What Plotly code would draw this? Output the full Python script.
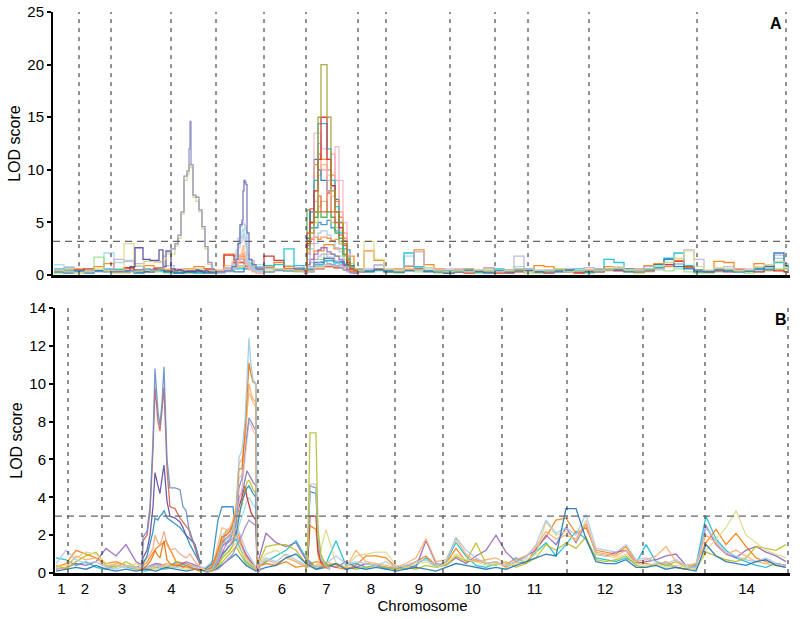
import plotly.graph_objects as go

# chromosome boundaries, in map units of the shared x axis
A_BOUNDS = [53, 79, 111, 171, 216, 264, 306, 358, 386, 450, 495, 528, 589, 697, 786]
B_BOUNDS = [55, 68, 102, 142, 201, 258, 306, 347, 395, 443, 502, 567, 643, 705, 788]
CHROMOSOMES = ['1', '2', '3', '4', '5', '6', '7', '8', '9', '10', '11', '12', '13', '14']
A_THRESHOLD = 3.2
B_THRESHOLD = 3.0

# ---------------- panel A : genome-wide marker grid ----------------
A_POS = [54, 64, 74, 84, 94, 104, 114, 124, 134, 144, 154, 164,
         174, 184, 194, 204, 214, 224, 234, 244, 254, 264, 274, 284, 294, 304,
         314, 324, 334, 344, 354, 364, 374, 384, 394, 404, 414, 424, 434, 444,
         454, 464, 474, 484, 494, 504, 514, 524, 534, 544, 554, 564, 574, 584,
         594, 604, 614, 624, 634, 644, 654, 664, 674, 684, 694,
         704, 714, 724, 734, 744, 754, 764, 774, 784, 788]

A_BG_1 = [1.0, 0.8, 0.4, 0.3, 0.5, 2.1, 1.2, 1.4, 0.8, 0.6, 0.5, 0.4,
          0.3, 0.2, 0.2, 0.3, 0.4, 0.6, 1.5, 1.2, 1.0, 0.8, 0.6, 0.9, 0.7, 0.5,
          0.9, 1.3, 1.1, 0.8, 0.3, 0.5, 0.9, 0.6, 0.4, 1.8, 0.7, 0.5, 0.4, 0.3,
          0.3, 0.5, 0.4, 0.3, 0.5, 0.4, 0.8, 0.5, 0.3, 0.4, 0.6, 0.5, 0.3, 0.2,
          0.3, 0.5, 0.6, 0.4, 0.3, 0.5, 0.8, 1.2, 1.0, 0.7, 0.4,
          0.3, 0.5, 0.6, 0.4, 0.3, 0.6, 0.9, 1.6, 0.8, 0.4]
A_BG_2 = [0.3, 0.5, 0.6, 0.4, 0.8, 1.1, 0.5, 0.6, 0.4, 0.9, 0.7, 0.5,
          0.4, 0.6, 0.8, 0.5, 0.3, 2.0, 1.8, 0.9, 0.6, 0.7, 1.2, 0.8, 0.5, 0.4,
          2.3, 2.9, 2.5, 1.8, 0.6, 2.3, 1.4, 0.5, 0.6, 0.8, 2.4, 1.0, 0.6, 0.4,
          0.5, 0.6, 0.4, 0.7, 0.3, 0.5, 0.6, 0.4, 0.9, 0.8, 0.6, 0.4, 0.3, 0.5,
          0.6, 0.8, 0.5, 0.4, 0.6, 0.9, 1.1, 0.8, 1.4, 0.7, 0.5,
          0.4, 1.3, 1.2, 0.6, 0.4, 1.1, 0.8, 0.5, 0.6, 0.3]
A_BG_3 = [0.2, 0.6, 0.3, 0.5, 1.7, 0.4, 0.6, 0.3, 0.5, 0.4, 0.3, 0.2,
          0.3, 0.2, 0.4, 0.3, 0.2, 0.4, 0.7, 1.1, 0.5, 0.3, 0.5, 0.4, 0.3, 0.6,
          1.5, 2.0, 1.8, 1.1, 0.4, 0.3, 0.4, 0.3, 0.2, 0.5, 0.3, 0.4, 0.2, 0.3,
          0.4, 0.3, 0.2, 0.5, 0.3, 0.3, 0.4, 0.2, 0.2, 0.3, 0.5, 0.3, 0.4, 0.2,
          0.3, 0.4, 0.6, 0.3, 0.2, 0.3, 0.5, 0.4, 0.6, 0.3, 0.2,
          0.2, 0.3, 0.5, 0.4, 0.2, 0.3, 0.4, 0.6, 0.3, 0.2]
A_BG_4 = [0.4, 0.3, 0.5, 0.6, 0.4, 0.5, 0.4, 0.7, 0.5, 0.3, 0.6, 0.4,
          0.5, 0.4, 0.3, 0.6, 0.4, 1.9, 1.2, 0.8, 0.5, 1.8, 1.4, 0.6, 0.4, 0.5,
          0.6, 0.8, 0.7, 0.5, 0.3, 0.4, 0.6, 0.3, 0.3, 0.5, 0.6, 0.4, 0.3, 0.2,
          0.3, 0.2, 0.4, 0.3, 0.2, 0.2, 0.3, 0.4, 0.3, 0.2, 0.4, 0.3, 0.2, 0.4,
          0.3, 0.5, 0.4, 0.6, 0.3, 0.4, 0.7, 1.0, 1.3, 0.8, 0.4,
          0.3, 0.4, 0.3, 0.5, 0.4, 0.3, 0.5, 0.4, 0.3, 0.2]
A_BG_5 = [0.6, 0.4, 0.3, 0.3, 0.4, 0.6, 0.5, 0.4, 0.3, 0.5, 0.4, 0.3,
          0.2, 0.3, 0.2, 0.4, 0.3, 0.5, 0.6, 0.9, 0.7, 0.9, 1.0, 2.5, 0.9, 0.6,
          1.0, 1.4, 1.2, 0.9, 0.5, 0.4, 0.5, 0.3, 0.3, 2.1, 0.8, 0.4, 0.3, 0.4,
          0.4, 0.5, 0.3, 0.4, 0.6, 0.3, 0.5, 0.6, 0.4, 0.3, 0.5, 0.4, 0.6, 0.3,
          0.5, 1.5, 1.2, 0.6, 0.4, 0.5, 0.7, 1.6, 2.1, 0.9, 0.5,
          0.4, 0.6, 0.5, 0.3, 0.4, 0.5, 0.6, 1.2, 0.7, 0.3]
A_BG_6 = [0.5, 0.7, 0.4, 0.4, 0.3, 0.5, 1.5, 1.3, 1.1, 1.3, 1.3, 0.9,
          0.6, 0.4, 0.5, 0.3, 0.4, 0.7, 0.9, 1.4, 0.8, 0.6, 0.4, 0.5, 0.7, 0.4,
          0.8, 1.0, 0.9, 0.7, 0.4, 0.6, 1.0, 0.5, 0.5, 0.9, 2.2, 0.7, 0.5, 0.6,
          0.6, 0.4, 0.5, 0.7, 0.4, 0.5, 1.8, 0.6, 0.4, 0.5, 0.3, 0.6, 0.4, 0.7,
          0.6, 0.5, 0.7, 0.4, 0.6, 0.8, 0.6, 0.9, 1.1, 2.4, 1.5,
          0.4, 0.6, 0.8, 0.5, 0.6, 0.7, 0.9, 1.9, 1.1, 0.5]
A_BG_7 = [0.3, 0.2, 0.4, 0.2, 0.4, 0.3, 0.3, 0.4, 0.2, 0.3, 0.5, 0.3,
          0.2, 0.3, 0.4, 0.2, 0.3, 0.4, 0.3, 0.6, 0.4, 0.3, 0.5, 0.4, 0.6, 0.3,
          1.2, 1.6, 1.3, 0.9, 0.4, 0.3, 0.5, 0.4, 0.3, 0.4, 0.5, 0.3, 0.4, 0.2,
          0.3, 0.4, 0.3, 0.2, 0.4, 0.3, 0.5, 0.4, 0.3, 0.4, 0.3, 0.5, 0.4, 0.3,
          0.4, 0.6, 0.5, 0.3, 0.4, 0.6, 1.0, 1.5, 0.8, 0.6, 0.3,
          0.3, 0.5, 0.4, 0.3, 0.4, 0.6, 0.8, 2.1, 0.9, 0.4]
A_BG_8 = [0.4, 0.3, 0.2, 0.3, 0.6, 0.4, 0.4, 3.0, 0.9, 1.3, 1.2, 0.6,
          0.4, 0.5, 0.6, 0.4, 0.3, 0.5, 0.8, 1.0, 0.6, 0.4, 0.6, 0.5, 0.4, 0.3,
          0.7, 0.9, 0.8, 0.6, 0.4, 3.2, 1.5, 0.6, 0.4, 0.6, 0.5, 0.7, 0.4, 0.3,
          0.4, 0.3, 0.5, 0.4, 0.3, 0.4, 0.6, 0.3, 0.5, 0.4, 0.6, 0.3, 0.4, 0.5,
          0.4, 0.6, 0.8, 0.5, 0.4, 0.6, 0.9, 1.2, 1.6, 2.3, 0.8,
          0.5, 0.7, 0.6, 0.4, 0.5, 0.8, 1.0, 1.3, 0.7, 0.4]

# panel A, chromosomes 3-4 (finer markers)
A_CHR4_POS = [112, 130, 135, 143, 150, 159, 163, 166, 171, 175, 178, 181, 184,
              187, 189, 190, 191, 193, 196, 199, 202, 205, 208, 212, 216]
A_CHR4_LAV = [0.3, 0.4, 0.5, 0.6, 0.5, 0.7, 1.8, 2.2, 2.5, 3.0, 3.8, 6.0, 9.4,
              9.9, 12.0, 14.6, 10.5, 7.6, 7.4, 6.2, 4.6, 2.7, 1.2, 0.5, 0.3]
A_CHR4_YEL = [0.2, 0.3, 0.4, 0.5, 0.4, 0.6, 1.5, 2.0, 2.0, 2.8, 3.5, 5.8, 9.0,
              9.6, 10.4, 10.5, 10.2, 7.4, 7.0, 6.0, 4.4, 2.5, 1.0, 0.4, 0.2]
A_CHR4_PUR = [0.3, 0.8, 2.6, 1.5, 1.4, 2.4, 0.8, 2.3, 0.6, 0.4, 0.5, 0.4, 0.3,
              0.4, 0.3, 0.3, 0.4, 0.3, 0.5, 0.4, 0.3, 0.4, 0.3, 0.3, 0.2]

# panel A, chromosome 5
A_CHR5_POS = [216, 225, 232, 236, 238, 240, 242, 243, 244, 245, 246, 247, 249, 252, 256, 264]
A_CHR5_1 = [0.3, 0.4, 0.8, 1.5, 3.0, 4.8, 5.2, 8.0, 9.0, 8.8, 8.6, 4.0, 1.5, 1.0, 0.6, 0.4]
A_CHR5_2 = [0.2, 0.3, 0.6, 2.0, 3.5, 4.6, 5.0, 5.0, 4.8, 4.5, 4.2, 2.0, 0.9, 0.6, 0.4, 0.3]
A_CHR5_3 = [0.3, 0.5, 1.0, 2.4, 3.0, 3.6, 4.2, 4.4, 3.9, 3.5, 3.0, 1.4, 0.8, 0.5, 0.4, 0.3]
A_CHR5_4 = [0.2, 0.4, 0.9, 1.8, 2.6, 3.1, 3.5, 3.8, 3.3, 3.0, 2.6, 1.2, 0.7, 0.5, 0.3, 0.2]
A_CHR5_5 = [0.5, 0.9, 1.3, 1.0, 1.6, 2.0, 2.4, 2.8, 2.2, 1.9, 1.5, 0.9, 0.6, 0.4, 0.3, 0.2]
A_CHR5_6 = [0.4, 0.6, 1.1, 0.8, 1.2, 1.6, 1.9, 2.1, 1.8, 1.5, 1.2, 0.7, 0.5, 0.3, 0.2, 0.3]

# panel A, chromosome 7
A_CHR7_POS = [304, 307, 310, 314, 318, 321, 327, 331, 335, 339, 343, 347, 350, 354, 358]
A_CHR7_01 = [0.5, 2.5, 4.0, 6.0, 15.0, 20.0, 15.0, 8.0, 6.0, 5.0, 3.0, 1.5, 0.8, 0.5, 0.5]
A_CHR7_02 = [0.4, 3.0, 5.0, 8.0, 11.0, 15.0, 11.0, 8.5, 6.0, 4.5, 3.0, 1.2, 0.6, 0.4, 0.4]
A_CHR7_03 = [0.5, 2.8, 4.5, 9.0, 14.4, 14.4, 12.0, 9.0, 6.5, 4.0, 2.5, 1.6, 0.8, 0.5, 0.5]
A_CHR7_04 = [0.3, 2.0, 3.5, 13.5, 13.5, 12.0, 9.5, 8.0, 12.2, 9.0, 5.0, 2.0, 0.7, 0.4, 0.4]
A_CHR7_05 = [0.4, 3.2, 5.0, 10.5, 11.5, 11.0, 10.0, 9.5, 7.0, 5.5, 3.5, 1.4, 0.5, 0.4, 0.4]
A_CHR7_06 = [0.4, 3.5, 6.0, 11.0, 10.0, 9.0, 8.0, 8.5, 7.2, 5.0, 3.2, 1.0, 0.6, 0.3, 0.3]
A_CHR7_07 = [0.3, 2.5, 4.5, 8.0, 9.5, 10.5, 9.0, 7.5, 6.0, 4.2, 3.0, 1.2, 0.5, 0.3, 0.3]
A_CHR7_08 = [0.3, 4.0, 6.3, 6.0, 7.5, 6.0, 7.8, 6.0, 5.0, 3.8, 2.8, 1.0, 0.4, 0.3, 0.3]
A_CHR7_09 = [0.4, 6.2, 5.0, 5.5, 6.0, 5.5, 6.0, 5.5, 4.0, 3.5, 2.0, 0.9, 0.5, 0.4, 0.4]
A_CHR7_10 = [0.4, 3.0, 3.5, 5.0, 6.5, 7.0, 6.0, 5.0, 4.5, 3.0, 1.8, 0.8, 0.4, 0.4, 0.4]
A_CHR7_11 = [0.3, 2.0, 3.5, 4.5, 5.0, 4.8, 5.2, 4.5, 4.2, 3.0, 1.9, 2.4, 0.6, 0.3, 0.3]
A_CHR7_12 = [0.5, 3.3, 3.4, 3.6, 3.4, 3.6, 3.5, 3.3, 3.4, 3.2, 3.3, 1.5, 0.5, 0.5, 0.5]
A_CHR7_13 = [0.3, 1.5, 2.5, 3.0, 4.0, 4.2, 3.8, 3.2, 2.6, 2.2, 1.5, 0.8, 0.4, 0.3, 0.3]
A_CHR7_14 = [0.2, 1.0, 1.5, 2.0, 2.4, 2.6, 2.2, 2.0, 1.8, 1.5, 1.0, 0.5, 0.3, 0.2, 0.2]
A_CHR7_15 = [0.2, 0.8, 1.2, 1.5, 1.8, 2.0, 1.7, 1.5, 1.3, 1.0, 0.8, 0.4, 0.2, 0.2, 0.2]
A_CHR7_16 = [0.2, 0.5, 0.8, 1.0, 1.2, 1.3, 1.1, 1.0, 0.9, 0.7, 0.5, 0.3, 0.2, 0.2, 0.2]
A_CHR7_17 = [0.3, 2.2, 3.0, 7.0, 12.5, 10.0, 8.0, 11.5, 9.0, 6.0, 4.0, 1.6, 0.5, 0.3, 0.3]

# ---------------- panel B : genome-wide marker grid ----------------
B_POS = [56, 66, 76, 86, 96, 106, 116, 126, 136, 146, 156, 166, 176, 186, 196,
         206, 216, 226, 236, 246, 256, 266, 276, 286, 296, 306, 316, 326, 336, 346,
         356, 366, 376, 386, 396, 406, 416, 426, 436, 446, 456, 466, 476, 486, 496,
         506, 516, 526, 536, 546, 556, 566, 576, 586, 596, 606, 616, 626, 636,
         646, 656, 666, 676, 686, 696, 706, 716, 726, 736, 746, 756, 766, 776, 786]

B_BG_1 = [0.8, 0.7, 0.4, 0.6, 0.3, 0.2, 0.4, 0.3, 0.2, 0.1, 0.3, 0.2, 0.6, 0.4, 0.2,
          0.1, 0.5, 1.2, 1.8, 0.6, 0.2, 0.6, 0.9, 1.2, 1.7, 0.8, 0.3, 0.5, 1.7, 0.4,
          0.5, 0.3, 0.4, 0.2, 0.3, 0.2, 0.4, 0.8, 0.3, 0.6, 1.6, 0.9, 0.4, 0.3, 0.5,
          0.4, 0.8, 0.5, 1.1, 1.6, 0.9, 1.5, 2.2, 1.8, 0.8, 0.7, 0.6, 0.8, 0.5,
          1.5, 0.6, 0.4, 0.3, 0.2, 0.4, 3.0, 1.8, 1.2, 0.8, 0.6, 0.4, 0.3, 0.5, 0.4]
B_BG_2 = [0.3, 0.5, 1.2, 1.0, 0.8, 0.5, 0.6, 0.4, 0.3, 0.5, 1.3, 1.7, 0.6, 0.5, 0.3,
          0.1, 0.4, 2.2, 2.4, 0.9, 0.3, 0.5, 0.4, 0.6, 0.3, 0.4, 0.6, 0.5, 0.3, 0.2,
          0.4, 0.9, 0.9, 0.8, 0.3, 0.3, 0.6, 0.9, 0.4, 0.5, 1.3, 0.6, 0.7, 0.5, 0.6,
          0.3, 0.6, 0.5, 1.3, 1.9, 2.8, 2.9, 2.1, 2.4, 1.2, 1.1, 1.0, 1.4, 0.6,
          0.5, 0.4, 0.6, 0.3, 0.2, 0.5, 1.6, 2.3, 1.5, 2.1, 1.4, 0.8, 0.6, 0.5, 0.4]
B_BG_3 = [0.2, 0.3, 0.5, 0.4, 0.6, 1.3, 0.9, 1.5, 0.6, 0.3, 0.5, 0.4, 0.3, 0.6, 0.4,
          0.2, 0.3, 1.5, 2.0, 1.0, 0.2, 2.1, 1.6, 1.4, 1.6, 0.7, 0.2, 0.4, 0.3, 0.6,
          0.3, 0.5, 0.4, 0.3, 0.2, 0.4, 0.3, 1.7, 0.5, 0.4, 0.8, 0.5, 0.9, 1.2, 2.0,
          1.1, 0.6, 0.9, 1.2, 2.0, 1.5, 2.4, 1.6, 2.6, 1.0, 0.9, 1.1, 1.2, 0.5,
          0.6, 0.7, 0.9, 1.0, 0.4, 0.3, 2.5, 1.5, 1.0, 0.8, 1.2, 1.4, 1.1, 0.9, 0.6]
B_BG_4 = [0.4, 0.2, 0.6, 0.9, 1.1, 0.4, 0.3, 0.6, 0.3, 0.2, 0.4, 0.3, 0.5, 0.3, 0.2,
          0.1, 0.2, 0.8, 1.4, 0.5, 0.2, 1.4, 1.5, 1.5, 1.2, 0.5, 0.3, 0.4, 0.5, 0.3,
          0.2, 0.3, 0.4, 0.3, 0.2, 0.3, 0.2, 0.4, 0.3, 0.4, 0.9, 0.6, 1.6, 0.5, 0.4,
          0.6, 0.3, 0.5, 0.8, 1.5, 1.2, 1.6, 1.3, 1.9, 0.7, 0.6, 0.7, 0.9, 0.4,
          0.3, 0.5, 0.4, 0.6, 0.3, 0.2, 1.1, 0.9, 0.7, 0.6, 0.8, 1.4, 1.3, 1.2, 1.5]
B_BG_5 = [0.3, 0.4, 0.8, 1.1, 1.0, 0.5, 0.4, 0.3, 0.5, 0.3, 0.2, 0.4, 0.3, 0.2, 0.3,
          0.2, 0.3, 1.0, 1.6, 0.7, 0.3, 1.0, 1.2, 0.9, 0.6, 0.4, 0.2, 2.3, 0.5, 0.3,
          0.9, 1.0, 1.1, 1.1, 0.4, 0.3, 0.5, 0.6, 0.3, 0.5, 1.0, 0.7, 0.6, 0.4, 0.5,
          0.4, 0.5, 0.7, 1.0, 2.7, 2.0, 2.2, 1.7, 2.8, 1.0, 0.9, 0.8, 1.0, 0.5,
          0.4, 0.5, 0.3, 0.4, 0.3, 0.2, 1.2, 1.8, 2.4, 3.3, 2.0, 1.6, 1.2, 1.0, 0.8]
B_BG_6 = [0.2, 0.3, 0.9, 0.7, 0.8, 0.3, 0.5, 0.4, 0.2, 0.2, 0.3, 0.5, 0.4, 0.3, 0.2,
          0.2, 0.6, 1.8, 2.1, 0.8, 0.2, 0.7, 0.5, 0.8, 0.6, 0.3, 0.4, 0.6, 0.4, 0.3,
          1.2, 0.6, 0.5, 0.4, 0.3, 0.5, 0.8, 1.8, 0.6, 0.7, 1.8, 1.0, 0.6, 0.7, 0.8,
          0.5, 0.7, 0.9, 1.4, 2.2, 1.8, 2.0, 1.8, 2.6, 1.1, 1.0, 0.9, 1.2, 0.6,
          0.7, 0.9, 1.4, 0.6, 0.4, 0.5, 2.0, 1.6, 1.0, 1.2, 0.9, 0.6, 0.5, 0.4, 0.3]
B_BG_7 = [0.5, 1.2, 0.7, 0.5, 0.6, 0.3, 0.2, 0.4, 0.3, 0.3, 0.4, 0.2, 0.3, 0.4, 0.3,
          0.3, 0.8, 2.0, 2.6, 1.2, 0.3, 0.8, 0.6, 1.0, 0.7, 0.4, 0.3, 0.5, 0.9, 0.5,
          0.6, 0.5, 0.4, 0.6, 0.3, 0.4, 0.6, 0.7, 0.4, 0.6, 1.9, 1.2, 0.8, 0.5, 0.6,
          0.4, 0.6, 0.8, 1.5, 2.8, 2.1, 2.4, 2.0, 3.1, 1.3, 1.2, 1.1, 1.5, 0.7,
          0.8, 0.6, 0.5, 0.7, 0.4, 0.3, 2.4, 1.7, 1.1, 0.9, 0.7, 0.6, 0.8, 0.5, 0.4]
B_BG_8 = [0.1, 0.2, 0.3, 0.2, 0.4, 0.2, 0.1, 0.2, 0.1, 0.2, 0.1, 0.3, 0.2, 0.1, 0.2,
          0.1, 0.2, 0.6, 1.0, 0.4, 0.1, 0.3, 0.4, 0.8, 1.0, 0.5, 0.2, 0.3, 0.5, 0.2,
          0.3, 0.2, 0.3, 0.2, 0.1, 0.2, 0.3, 0.2, 0.1, 0.3, 0.5, 0.4, 0.3, 0.2, 0.3,
          0.2, 0.4, 0.6, 0.8, 1.0, 0.9, 3.4, 3.4, 1.8, 0.6, 0.5, 0.5, 0.7, 0.3,
          0.3, 0.4, 0.2, 0.3, 0.2, 0.1, 1.5, 0.9, 0.6, 0.5, 0.4, 0.6, 0.7, 0.4, 0.3]

# panel B, chromosome 4
B_CHR4_POS = [142, 143, 147, 150, 153, 155, 158, 160, 162, 164, 167, 170, 175,
              180, 183, 186, 190, 195, 200]
B_CHR4_1 = [0.3, 1.9, 2.2, 3.5, 7.0, 10.8, 8.5, 7.8, 9.0, 10.9, 6.0, 4.5, 4.5,
            4.4, 3.5, 3.3, 2.0, 1.5, 0.5]
B_CHR4_2 = [0.3, 1.7, 2.0, 3.2, 6.5, 9.8, 8.0, 7.5, 8.6, 9.8, 5.5, 3.5, 3.4,
            2.9, 2.7, 2.5, 2.2, 1.3, 0.4]
B_CHR4_3 = [0.2, 0.8, 1.2, 2.0, 3.5, 5.3, 4.6, 4.2, 5.0, 5.7, 3.8, 3.0, 2.9,
            2.7, 2.4, 2.0, 1.8, 1.5, 0.6]
B_CHR4_4 = [0.2, 0.5, 0.9, 1.5, 2.2, 2.9, 2.8, 3.0, 3.1, 3.3, 2.9, 2.8, 2.6,
            2.4, 2.2, 2.0, 1.5, 1.0, 0.5]
B_CHR4_5 = [0.1, 0.2, 0.4, 0.6, 0.9, 1.2, 0.9, 0.8, 1.3, 1.7, 0.7, 0.5, 0.4,
            0.4, 0.3, 0.4, 0.3, 0.2, 0.1]
B_CHR4_6 = [0.1, 0.5, 0.8, 1.0, 1.3, 2.0, 1.6, 1.5, 1.8, 2.2, 1.5, 1.2, 1.3,
            1.0, 0.9, 0.8, 1.0, 0.6, 0.3]

# panel B, chromosome 5
B_CHR5_POS = [205, 212, 218, 222, 226, 230, 233, 236, 239, 242, 245, 247, 249,
              251, 253, 256, 257, 260]
B_CHR5_01 = [0.1, 0.2, 0.8, 1.5, 1.8, 2.0, 2.3, 3.0, 6.1, 6.5, 8.0, 10.0, 12.4,
             11.0, 10.2, 10.0, 1.0, 0.3]
B_CHR5_02 = [0.1, 0.3, 1.2, 1.9, 2.0, 2.2, 2.6, 3.2, 5.5, 5.5, 7.5, 9.5, 11.1,
             10.5, 10.1, 10.0, 0.8, 0.3]
B_CHR5_03 = [0.1, 0.2, 1.0, 1.7, 2.2, 2.4, 2.8, 3.5, 5.8, 6.0, 7.0, 8.8, 10.0,
             9.5, 9.2, 9.0, 0.6, 0.2]
B_CHR5_04 = [0.1, 0.2, 0.7, 1.4, 1.6, 1.8, 2.1, 2.6, 4.5, 5.0, 6.5, 7.5, 8.2,
             8.0, 7.8, 7.5, 0.5, 0.2]
B_CHR5_05 = [0.2, 0.5, 2.8, 3.5, 3.5, 3.5, 3.5, 2.0, 3.0, 3.8, 4.2, 4.5, 4.6,
             4.4, 4.2, 4.0, 0.4, 0.2]
B_CHR5_06 = [0.1, 0.2, 0.5, 1.0, 1.2, 1.5, 1.7, 2.5, 4.0, 4.2, 5.0, 5.4, 5.2,
             5.0, 4.8, 4.6, 0.3, 0.1]
B_CHR5_07 = [0.1, 0.1, 0.4, 0.8, 1.0, 1.2, 1.5, 2.2, 3.2, 3.6, 4.4, 4.8, 4.9,
             4.7, 4.4, 4.2, 0.4, 0.1]
B_CHR5_08 = [0.1, 0.3, 0.9, 1.6, 1.8, 2.0, 2.2, 2.8, 3.5, 4.0, 4.6, 4.0, 3.6,
             3.2, 3.0, 2.8, 0.3, 0.1]
B_CHR5_09 = [0.1, 0.2, 0.6, 1.2, 1.4, 1.5, 1.9, 2.4, 3.8, 4.5, 6.0, 7.2, 8.0,
             7.8, 7.5, 7.3, 0.4, 0.1]
B_CHR5_10 = [0.1, 0.3, 1.3, 2.0, 2.2, 2.3, 2.5, 1.8, 2.5, 3.0, 3.5, 3.8, 4.0,
             3.8, 3.6, 3.4, 0.3, 0.2]
B_CHR5_11 = [0.0, 0.1, 0.2, 0.4, 0.6, 0.8, 1.0, 1.4, 1.7, 2.0, 2.4, 2.6, 2.8,
             2.7, 2.6, 2.5, 0.2, 0.1]
B_CHR5_12 = [0.1, 0.3, 1.5, 2.4, 2.3, 2.2, 2.0, 3.0, 5.0, 5.2, 6.8, 8.5, 9.5,
             9.3, 9.0, 8.8, 0.5, 0.2]

# panel B, chromosome 7
B_CHR7_POS = [306, 308, 310, 316, 318, 321, 325, 330]
B_CHR7_1 = [0.1, 2.0, 7.4, 7.4, 2.3, 1.0, 0.5, 0.3]
B_CHR7_2 = [0.1, 1.5, 4.7, 4.7, 2.0, 0.8, 0.4, 0.2]
B_CHR7_3 = [0.1, 1.4, 4.6, 4.5, 1.8, 0.7, 0.4, 0.2]
B_CHR7_4 = [0.1, 1.2, 4.3, 4.2, 1.7, 0.8, 0.5, 0.3]
B_CHR7_5 = [0.1, 1.0, 3.0, 3.0, 1.2, 0.6, 0.4, 0.2]
B_CHR7_6 = [0.1, 0.8, 2.5, 2.3, 1.0, 0.5, 0.3, 0.2]

FONT = 'Arial, Liberation Sans, sans-serif'

fig = go.Figure()


def add_curves(pos, curves, colors, shape, xa, ya):
    for lod, color in zip(curves, colors):
        assert len(lod) == len(pos), (len(lod), len(pos))
        fig.add_trace(go.Scatter(
            x=pos, y=lod, mode='lines',
            line=dict(color=color, width=1.3, shape=shape),
            opacity=0.9, xaxis=xa, yaxis=ya,
            showlegend=False, hoverinfo='skip'))


bg_colors = ['#9edae5', '#ff7f0e', '#98df8a', '#d62728',
             '#17becf', '#c5b0d5', '#1f77b4', '#dbdb8d']
add_curves(A_POS, [A_BG_1, A_BG_2, A_BG_3, A_BG_4, A_BG_5, A_BG_6, A_BG_7, A_BG_8],
           bg_colors, 'hv', 'x', 'y')
add_curves(A_CHR4_POS, [A_CHR4_PUR, A_CHR4_YEL, A_CHR4_LAV],
           ['#54479a', '#d9d77a', '#8f8cc4'], 'hv', 'x', 'y')
add_curves(A_CHR5_POS, [A_CHR5_6, A_CHR5_5, A_CHR5_4, A_CHR5_3, A_CHR5_2, A_CHR5_1],
           ['#ff9896', '#ffbb78', '#c7c7e0', '#9edae5', '#aec7e8', '#6f6fb8'],
           'hv', 'x', 'y')
add_curves(A_CHR7_POS,
           [A_CHR7_16, A_CHR7_15, A_CHR7_14, A_CHR7_13, A_CHR7_12, A_CHR7_11,
            A_CHR7_10, A_CHR7_09, A_CHR7_08, A_CHR7_07, A_CHR7_06, A_CHR7_05,
            A_CHR7_17, A_CHR7_04, A_CHR7_03, A_CHR7_02, A_CHR7_01],
           ['#9ba4d0', '#c5b0d5', '#9467bd', '#aec7e8', '#fd8d3c', '#3b8fd0',
            '#c9cf6a', '#4aa84a', '#e6553a', '#ffbb78', '#1f77b4', '#ff7f0e',
            '#ff9896', '#f7b6d2', '#17becf', '#d62728', '#a3a332'],
           'hv', 'x', 'y')

bg_colors_b = ['#17becf', '#ff7f0e', '#9467bd', '#bcbd22',
               '#dbdb8d', '#fdae6b', '#aec7e8', '#1f77b4']
add_curves(B_POS, [B_BG_1, B_BG_2, B_BG_3, B_BG_4, B_BG_5, B_BG_6, B_BG_7, B_BG_8],
           bg_colors_b, 'linear', 'x2', 'y2')
add_curves(B_CHR4_POS, [B_CHR4_6, B_CHR4_5, B_CHR4_4, B_CHR4_3, B_CHR4_2, B_CHR4_1],
           ['#f4a582', '#e6750a', '#2b8cbe', '#5e4fa2', '#d6604d', '#6a8ec8'],
           'linear', 'x2', 'y2')
add_curves(B_CHR5_POS,
           [B_CHR5_11, B_CHR5_10, B_CHR5_08, B_CHR5_07, B_CHR5_06, B_CHR5_05,
            B_CHR5_09, B_CHR5_04, B_CHR5_12, B_CHR5_03, B_CHR5_02, B_CHR5_01],
           ['#9b8fd0', '#9edae5', '#d62728', '#bcbd22', '#8073ac', '#2b8cbe',
            '#f7b6d2', '#6b8fc6', '#ffbb78', '#fdae6b', '#e6750a', '#9ecae1'],
           'linear', 'x2', 'y2')
add_curves(B_CHR7_POS, [B_CHR7_6, B_CHR7_5, B_CHR7_4, B_CHR7_3, B_CHR7_2, B_CHR7_1],
           ['#ff7f0e', '#d62728', '#2b8cbe', '#8c96c6', '#c7c7c7', '#b5c230'],
           'linear', 'x2', 'y2')

# chromosome boundaries and significance thresholds
shapes = []
for b in A_BOUNDS[1:]:
    shapes.append(dict(type='line', xref='x', yref='y domain', x0=b, x1=b, y0=0, y1=1,
                       line=dict(color='#222', width=1, dash='4px,5px'), layer='above'))
for b in B_BOUNDS[1:]:
    shapes.append(dict(type='line', xref='x2', yref='y2 domain', x0=b, x1=b, y0=0, y1=1,
                       line=dict(color='#222', width=1, dash='4px,5px'), layer='above'))
shapes.append(dict(type='line', xref='x domain', yref='y', x0=0, x1=1,
                   y0=A_THRESHOLD, y1=A_THRESHOLD,
                   line=dict(color='#666', width=1.3, dash='7px,5px'), layer='above'))
shapes.append(dict(type='line', xref='x2 domain', yref='y2', x0=0, x1=1,
                   y0=B_THRESHOLD, y1=B_THRESHOLD,
                   line=dict(color='#666', width=1.3, dash='7px,5px'), layer='above'))

mids = [(B_BOUNDS[i] + B_BOUNDS[i + 1]) / 2 for i in range(len(CHROMOSOMES))]

yaxis_style = dict(showline=True, linecolor='black', linewidth=2, ticks='outside',
                   ticklen=4, tickwidth=1.5, tickcolor='black', showgrid=False,
                   zeroline=False, tickfont=dict(size=15), automargin=False,
                   title=dict(text='LOD score', font=dict(size=16), standoff=3))

fig.update_layout(
    width=800, height=619,
    margin=dict(l=53, r=10, t=12, b=46, autoexpand=False),
    paper_bgcolor='white', plot_bgcolor='white',
    font=dict(family=FONT, size=15, color='black'),
    shapes=shapes,
    xaxis=dict(domain=[0, 1], range=[53, 790], anchor='y', showline=True,
               linecolor='black', linewidth=3, showticklabels=False, ticks='',
               showgrid=False, zeroline=False, automargin=False),
    yaxis=dict(domain=[0.531, 1], range=[0, 25], anchor='x',
               tickvals=[0, 5, 10, 15, 20, 25], **yaxis_style),
    xaxis2=dict(domain=[0.0027, 1], range=[55, 790], anchor='y2', showline=True,
                linecolor='black', linewidth=3, ticks='', showgrid=False,
                zeroline=False, tickvals=mids, ticktext=CHROMOSOMES,
                tickfont=dict(size=15), automargin=False,
                title=dict(text='Chromosome', font=dict(size=15), standoff=0)),
    yaxis2=dict(domain=[0, 0.4724], range=[0, 14], anchor='x2',
                tickvals=[0, 2, 4, 6, 8, 10, 12, 14], **yaxis_style),
    annotations=[
        dict(text='<b>A</b>', x=776, y=23.9, xref='x', yref='y', showarrow=False,
             font=dict(size=16)),
        dict(text='<b>B</b>', x=781, y=13.37, xref='x2', yref='y2', showarrow=False,
             font=dict(size=16)),
    ],
)

# the page's default body margin would shift the whole figure by 8px
fig.write_html("out.html", config={'displayModeBar': False},
               post_script="document.body.style.margin='0';")
